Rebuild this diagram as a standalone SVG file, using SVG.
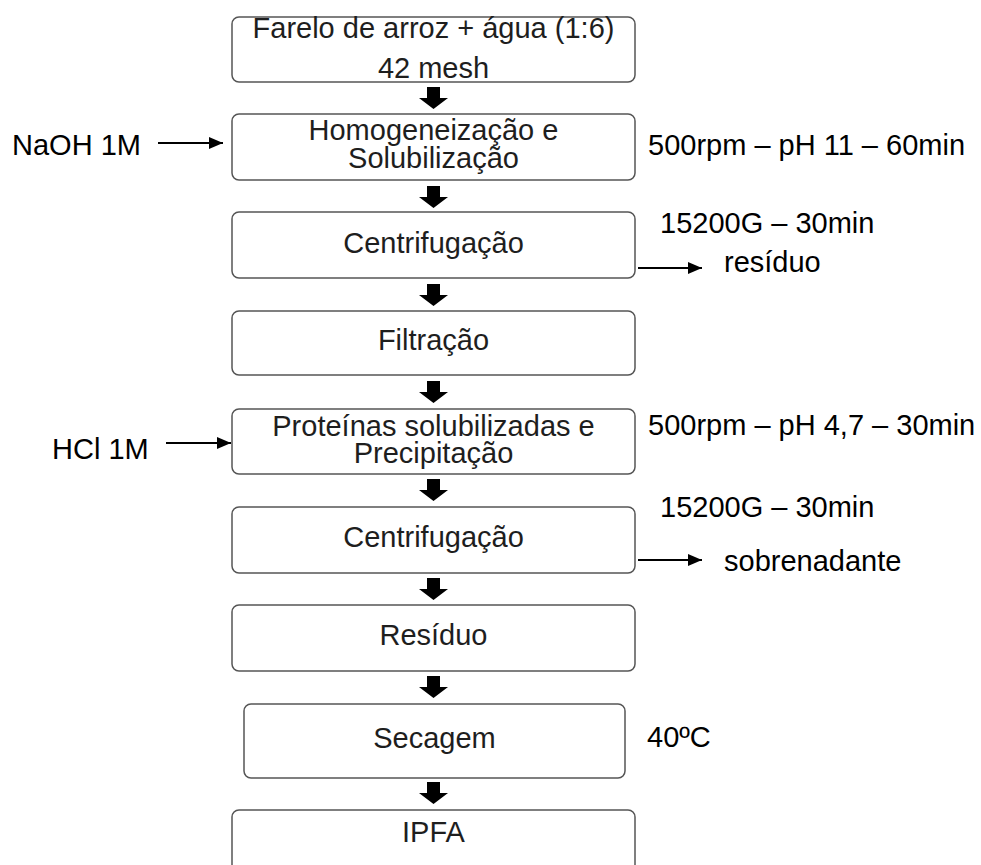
<svg xmlns="http://www.w3.org/2000/svg" width="981" height="865" viewBox="0 0 981 865">
<defs>
<style>
.box{fill:#fff;stroke:#555;stroke-width:1.5}
.bt{font-family:"Liberation Sans",Arial,sans-serif;font-size:29px;fill:#1e1e1e;text-anchor:middle}
.st{font-family:"Liberation Sans",Arial,sans-serif;font-size:29px;fill:#000}
.ln{stroke:#000;stroke-width:2.2;fill:none}
.blk{fill:#000}
</style>
<marker id="ah" viewBox="0 0 14 12" refX="14" refY="6" markerWidth="14" markerHeight="12" markerUnits="userSpaceOnUse" orient="auto">
<path d="M0,0 L14,6 L0,12 z" fill="#000"/>
</marker>
<path id="barrow" d="M-6.5,0 H6.5 V11 H14.5 L0,22 L-14.5,11 H-6.5 Z"/>
</defs>
<rect width="981" height="865" fill="#fff"/>

<g id="n1"><rect class="box" x="232" y="17" width="403" height="65" rx="7"/>
<text class="bt" x="433.5" y="38">Farelo de arroz + água (1:6)</text>
<text class="bt" x="433.5" y="78">42 mesh</text></g>

<g id="n2"><rect class="box" x="232" y="114" width="403" height="66" rx="7"/>
<text class="bt" x="433.5" y="140">Homogeneização e</text>
<text class="bt" x="433.5" y="168">Solubilização</text></g>

<g id="n3"><rect class="box" x="232" y="212" width="403" height="66" rx="7"/>
<text class="bt" x="433.5" y="253">Centrifugação</text></g>

<g id="n4"><rect class="box" x="232" y="311" width="403" height="64" rx="7"/>
<text class="bt" x="433.5" y="350">Filtração</text></g>

<g id="n5"><rect class="box" x="232" y="409" width="403" height="65" rx="7"/>
<text class="bt" x="433.5" y="436">Proteínas solubilizadas e</text>
<text class="bt" x="433.5" y="463">Precipitação</text></g>

<g id="n6"><rect class="box" x="232" y="507" width="403" height="66" rx="7"/>
<text class="bt" x="433.5" y="547">Centrifugação</text></g>

<g id="n7"><rect class="box" x="232" y="605" width="403" height="66" rx="7"/>
<text class="bt" x="433.5" y="645">Resíduo</text></g>

<g id="n8"><rect class="box" x="244" y="704" width="381" height="74" rx="7"/>
<text class="bt" x="434.5" y="748">Secagem</text></g>

<g id="n9"><rect class="box" x="232" y="810" width="403" height="70" rx="7"/>
<text class="bt" x="433.5" y="842">IPFA</text></g>

<g id="connectors">
<use href="#barrow" class="blk" x="433.5" y="87"/>
<use href="#barrow" class="blk" x="433.5" y="186"/>
<use href="#barrow" class="blk" x="433.5" y="284"/>
<use href="#barrow" class="blk" x="433.5" y="381"/>
<use href="#barrow" class="blk" x="433.5" y="479"/>
<use href="#barrow" class="blk" x="433.5" y="578"/>
<use href="#barrow" class="blk" x="433.5" y="676"/>
<use href="#barrow" class="blk" x="433.5" y="782"/>
<line class="ln" x1="158" y1="143" x2="223" y2="143" marker-end="url(#ah)"/>
<line class="ln" x1="166" y1="443" x2="231" y2="443" marker-end="url(#ah)"/>
<line class="ln" x1="638" y1="268" x2="702" y2="268" marker-end="url(#ah)"/>
<line class="ln" x1="638" y1="560" x2="702" y2="560" marker-end="url(#ah)"/>
</g>

<g id="labels">
<text class="st" x="12" y="155">NaOH 1M</text>
<text class="st" x="52" y="459">HCl 1M</text>
<text class="st" x="648" y="155">500rpm – pH 11 – 60min</text>
<text class="st" x="660" y="233">15200G – 30min</text>
<text class="st" x="724" y="272">resíduo</text>
<text class="st" x="648" y="435">500rpm – pH 4,7 – 30min</text>
<text class="st" x="660" y="517">15200G – 30min</text>
<text class="st" x="724" y="571">sobrenadante</text>
<text class="st" x="647" y="747">40ºC</text>
</g>
</svg>
